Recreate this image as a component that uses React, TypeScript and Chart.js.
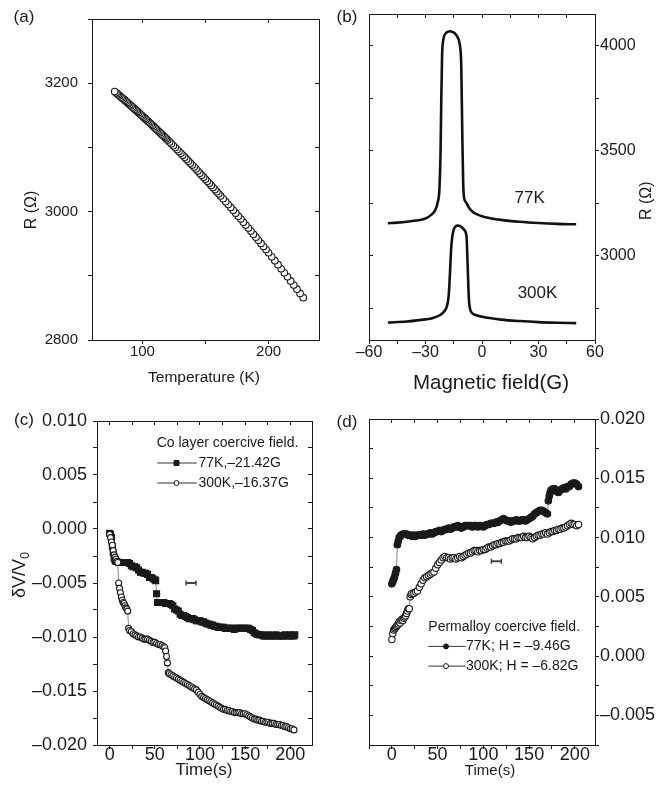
import React, { useEffect, useRef } from "react";
import { Chart, registerables } from "chart.js";
Chart.register(...registerables);

const FONT = '"Liberation Sans", Arial, Helvetica, sans-serif';
const INK = "#1a1a1a";

// ---------- Panel (a): R vs Temperature ----------
const aTemperature = [
  78, 79, 80, 81, 82, 83, 84, 85, 86, 87, 88, 89, 90, 91, 92, 93, 94, 95, 96, 97, 98, 99, 100,
  101, 102, 103, 104, 105, 106, 107, 108, 109, 110, 111, 112, 113, 114, 115, 116, 117, 118, 119, 120,
  121.5, 123, 124.5, 126, 127.5, 129, 130.5, 132, 133.5, 135, 136.5, 138, 139.5, 141, 142.5, 144,
  145.5, 147, 148.5, 150, 151.5, 153, 154.5, 156, 157.5, 159, 160.5,
  162, 164, 166, 168, 170, 172, 174, 176, 178, 180, 182, 184, 186, 188, 190, 192, 194, 196, 198, 200,
  202.5, 205, 207.5, 210, 212.5, 215, 217.5, 220, 222.5, 225, 227.5,
];
const aResistance = [
  3187.0, 3185.3, 3183.7, 3182.0, 3180.3, 3178.6, 3176.9, 3175.2, 3173.5, 3171.8, 3170.0, 3168.3,
  3166.6, 3164.8, 3163.1, 3161.3, 3159.5, 3157.8, 3156.0, 3154.2, 3152.4, 3150.6, 3148.8, 3147.0,
  3145.2, 3143.4, 3141.5, 3139.7, 3137.9, 3136.0, 3134.2, 3132.3, 3130.4, 3128.6, 3126.7, 3124.8,
  3122.9, 3121.0, 3119.1, 3117.2, 3115.3, 3113.3, 3111.4,
  3108.5, 3105.6, 3102.6, 3099.7, 3096.7, 3093.7, 3090.7, 3087.7, 3084.7, 3081.6, 3078.6, 3075.5,
  3072.4, 3069.3, 3066.2, 3063.1, 3059.9, 3056.8, 3053.6, 3050.4, 3047.2, 3044.0, 3040.8, 3037.5,
  3034.3, 3031.0, 3027.7,
  3024.4, 3020.0, 3015.5, 3011.0, 3006.5, 3002.0, 2997.5, 2992.9, 2988.3, 2983.6, 2979.0, 2974.3,
  2969.6, 2964.8, 2960.1, 2955.3, 2950.5, 2945.6, 2940.8, 2935.9,
  2929.7, 2923.5, 2917.3, 2911.0, 2904.7, 2898.4, 2892.0, 2885.5, 2879.1, 2872.5, 2866.0,
];
const aXTicks = [100, 150, 200];
const aXLabels = [100, 200];
const aYTicks = [2800, 2900, 3000, 3100, 3200, 3300];
const aYLabels = [2800, 3000, 3200];

// ---------- Panel (b): R vs magnetic field ----------
const b77K: [number, number][] = [
  [-50, 3155], [-45, 3158], [-40, 3162], [-35, 3168], [-30, 3178], [-27, 3195], [-25, 3215],
  [-23.5, 3255], [-22.6, 3320], [-22.0, 3500], [-21.6, 3750], [-21.2, 3950], [-20.5, 4030],
  [-19.5, 4055], [-18, 4066], [-17, 4068], [-15.5, 4064], [-14, 4054], [-12.5, 4030], [-11.5, 3985],
  [-11, 3900], [-10.5, 3600], [-10, 3350], [-9.5, 3275], [-8.5, 3255], [-7, 3230], [-5, 3210],
  [-2, 3195], [0, 3188], [5, 3178], [10, 3171], [20, 3162], [30, 3156], [40, 3152], [50, 3150],
];
const b300K: [number, number][] = [
  [-50, 2683], [-40, 2688], [-30, 2698], [-26, 2705], [-22, 2720], [-20, 2737], [-18.5, 2765],
  [-17.6, 2820], [-17, 2920], [-16.4, 3030], [-15.8, 3090], [-15, 3125], [-14, 3140], [-13, 3144],
  [-12, 3143], [-11, 3138], [-10, 3130], [-9, 3118], [-8.2, 3090], [-7.6, 2950], [-7.0, 2800],
  [-6.5, 2755], [-5.5, 2730], [-3, 2718], [0, 2711], [5, 2703], [10, 2697], [20, 2690], [30, 2685],
  [40, 2682], [50, 2680],
];
const bXTicks = [-60, -45, -30, -15, 0, 15, 30, 45, 60];
const bXLabels = [-60, -30, 0, 30, 60];
const bYTicks = [2750, 3000, 3250, 3500, 3750, 4000];
const bYLabels = [3000, 3500, 4000];

// ---------- Panel (c): Co layer ----------
const c77K: [number, number][] = [
  [0, -0.0004], [1, -0.0005], [2, -0.0008], [3, -0.0016], [4, -0.0022], [5, -0.0027], [6, -0.0029],
  [7, -0.003], [8, -0.003], [10, -0.0031], [12, -0.0031], [14, -0.0031], [16, -0.0031], [18, -0.0031],
  [20, -0.0031], [22, -0.0032], [24, -0.0034], [26, -0.0035], [28, -0.0035], [30, -0.0036],
  [32, -0.0038], [34, -0.004], [36, -0.004], [38, -0.0041], [40, -0.0041], [42, -0.0042],
  [44, -0.0045], [46, -0.0045], [48, -0.0046], [50, -0.0047], [51, -0.0048], [52, -0.006],
  [53, -0.0068], [54, -0.0068], [56, -0.0068], [58, -0.0068], [60, -0.0068], [62, -0.0069],
  [64, -0.0069], [66, -0.0069], [68, -0.007], [70, -0.0071], [72, -0.0074], [74, -0.0075],
  [76, -0.0076], [78, -0.0079], [80, -0.008], [82, -0.008], [84, -0.0081], [86, -0.0082],
  [88, -0.0083], [90, -0.0083], [92, -0.0083], [94, -0.0084], [96, -0.0085], [98, -0.0085],
  [100, -0.0085], [102, -0.0086], [104, -0.0086], [106, -0.0087], [108, -0.0088], [110, -0.0088],
  [112, -0.0089], [114, -0.0089], [116, -0.009], [118, -0.009], [120, -0.0091], [122, -0.0091],
  [124, -0.0091], [126, -0.0091], [128, -0.0092], [130, -0.0092], [132, -0.0092], [134, -0.0092],
  [136, -0.0092], [138, -0.0093], [140, -0.0092], [142, -0.0092], [144, -0.0092], [146, -0.0092],
  [148, -0.0092], [150, -0.0092], [152, -0.0092], [154, -0.0092], [156, -0.0093], [158, -0.0094],
  [160, -0.0096], [162, -0.0097], [164, -0.0098], [166, -0.0098], [168, -0.0098], [170, -0.0099],
  [172, -0.0099], [174, -0.0099], [176, -0.0098], [178, -0.0099], [180, -0.0099], [182, -0.0099],
  [184, -0.0098], [186, -0.0099], [188, -0.0099], [190, -0.0099], [192, -0.0099], [194, -0.0098],
  [196, -0.0099], [198, -0.0099], [200, -0.0098], [202, -0.0099], [204, -0.0099], [205, -0.0098],
];
const c300K: [number, number][] = [
  [0, -0.0005], [1, -0.0008], [2, -0.0012], [3, -0.0015], [4, -0.002], [5, -0.0024], [6, -0.0026],
  [7, -0.0028], [8, -0.003], [9, -0.0031], [10, -0.005], [11, -0.0055], [12, -0.0059], [13, -0.0063],
  [14, -0.0066], [15, -0.0068], [16, -0.0069], [17, -0.0071], [18, -0.0073], [19, -0.0074],
  [20, -0.0076], [21, -0.0092], [22, -0.0094], [24, -0.0095], [26, -0.0097], [28, -0.0098],
  [30, -0.0099], [32, -0.01], [34, -0.01], [36, -0.0101], [38, -0.0102], [40, -0.0102], [42, -0.0102],
  [44, -0.0103], [46, -0.0104], [48, -0.0105], [50, -0.0105], [52, -0.0106], [54, -0.0107],
  [56, -0.0107], [58, -0.0108], [60, -0.0109], [61, -0.011], [62, -0.0113], [63, -0.0118],
  [64, -0.0124], [65, -0.0133], [66, -0.0134], [68, -0.0135], [70, -0.0136], [72, -0.0137],
  [74, -0.0138], [76, -0.0139], [78, -0.014], [80, -0.0141], [82, -0.0142], [84, -0.0143],
  [86, -0.0144], [88, -0.0145], [90, -0.0146], [92, -0.0147], [94, -0.0148], [96, -0.0149],
  [98, -0.0151], [100, -0.0153], [102, -0.0155], [104, -0.0156], [106, -0.0157], [108, -0.0158],
  [110, -0.0159], [112, -0.016], [114, -0.0161], [116, -0.0162], [118, -0.0163], [120, -0.0164],
  [122, -0.0165], [124, -0.0166], [126, -0.0167], [128, -0.0167], [130, -0.0168], [132, -0.0168],
  [134, -0.0169], [136, -0.0169], [138, -0.017], [140, -0.017], [142, -0.017], [144, -0.017],
  [146, -0.0171], [148, -0.0171], [150, -0.0171], [152, -0.0172], [154, -0.0173], [156, -0.0174],
  [158, -0.0175], [160, -0.0176], [162, -0.0176], [164, -0.0177], [166, -0.0177], [168, -0.0178],
  [170, -0.0178], [172, -0.0179], [174, -0.0179], [176, -0.0179], [178, -0.018], [180, -0.018],
  [182, -0.018], [184, -0.0181], [186, -0.0181], [188, -0.0181], [190, -0.0182], [192, -0.0182],
  [194, -0.0183], [196, -0.0183], [198, -0.0184], [200, -0.0185], [202, -0.0185], [204, -0.0186],
];
const cErrorBar: [number, number][] = [[84.6, -0.005], [95.6, -0.005]];
const cXTicks = [0, 25, 50, 75, 100, 125, 150, 175, 200];
const cXLabels = [0, 50, 100, 150, 200];
const cYTicks = [-0.02, -0.0175, -0.015, -0.0125, -0.01, -0.0075, -0.005, -0.0025, 0, 0.0025, 0.005, 0.0075, 0.01];
const cYLabels = [-0.02, -0.015, -0.01, -0.005, 0, 0.005, 0.01];
const cLegendTitle = "Co layer coercive field.";
const cLegendLabels = ["77K,–21.42G", "300K,–16.37G"];

// ---------- Panel (d): Permalloy ----------
const d77K: [number, number][] = [
  [0, 0.0061], [1, 0.0063], [2, 0.0065], [3, 0.0067], [4, 0.007], [5, 0.0073], [6, 0.0094],
  [7, 0.0097], [8, 0.01], [9, 0.0101], [10, 0.0102], [12, 0.0103], [14, 0.0103], [16, 0.0103],
  [18, 0.0102], [20, 0.0102], [22, 0.0101], [24, 0.0102], [26, 0.0101], [28, 0.0102], [30, 0.0102],
  [32, 0.0102], [34, 0.0103], [36, 0.0102], [38, 0.0103], [40, 0.0103], [42, 0.0104], [44, 0.0103],
  [46, 0.0104], [48, 0.0105], [50, 0.0105], [52, 0.0106], [54, 0.0105], [56, 0.0106], [58, 0.0107],
  [60, 0.0107], [62, 0.0108], [64, 0.0107], [66, 0.0108], [68, 0.0109], [70, 0.0109], [72, 0.011],
  [74, 0.0109], [76, 0.0108], [78, 0.0109], [80, 0.011], [82, 0.011], [84, 0.011], [86, 0.011],
  [88, 0.0109], [90, 0.011], [92, 0.011], [94, 0.0109], [96, 0.011], [98, 0.011], [100, 0.0109],
  [102, 0.011], [104, 0.0111], [106, 0.0111], [108, 0.0112], [110, 0.0112], [112, 0.0112],
  [114, 0.0113], [116, 0.0113], [118, 0.0114], [120, 0.0115], [122, 0.0116], [124, 0.0115],
  [126, 0.0114], [128, 0.0114], [130, 0.0113], [132, 0.0114], [134, 0.0114], [136, 0.0115],
  [138, 0.0114], [140, 0.0114], [142, 0.0115], [144, 0.0115], [146, 0.0114], [148, 0.0115],
  [150, 0.0116], [152, 0.0117], [154, 0.0118], [156, 0.012], [158, 0.0121], [160, 0.0122],
  [162, 0.0123], [164, 0.0123], [166, 0.0122], [168, 0.0121], [170, 0.012], [171, 0.0131],
  [172, 0.0135], [173, 0.0138], [174, 0.014], [176, 0.0141], [178, 0.0141], [180, 0.0139],
  [182, 0.0138], [184, 0.014], [186, 0.0141], [188, 0.0142], [190, 0.0141], [192, 0.0143],
  [194, 0.0143], [196, 0.0145], [198, 0.0146], [200, 0.0146], [202, 0.0145], [204, 0.0143],
];
const d300K: [number, number][] = [
  [0, 0.0014], [1, 0.0019], [2, 0.0022], [3, 0.0023], [4, 0.0024], [5, 0.0025], [6, 0.0026],
  [7, 0.0027], [8, 0.0029], [9, 0.0028], [10, 0.003], [11, 0.0031], [12, 0.003], [13, 0.0032],
  [14, 0.0033], [15, 0.0034], [16, 0.0036], [17, 0.0038], [18, 0.004], [19, 0.004], [20, 0.005],
  [21, 0.0052], [22, 0.0053], [24, 0.0053], [26, 0.0054], [28, 0.0055], [30, 0.0058], [32, 0.0061],
  [34, 0.0064], [36, 0.0066], [38, 0.0067], [40, 0.0068], [42, 0.0069], [44, 0.007], [46, 0.0071],
  [48, 0.0074], [50, 0.0077], [52, 0.0079], [54, 0.0081], [56, 0.0083], [58, 0.0084], [60, 0.0083],
  [62, 0.0083], [64, 0.0082], [66, 0.0083], [68, 0.0083], [70, 0.0082], [72, 0.0083], [74, 0.0084],
  [76, 0.0083], [78, 0.0084], [80, 0.0085], [82, 0.0086], [84, 0.0087], [86, 0.0087], [88, 0.0088],
  [90, 0.0089], [92, 0.0089], [94, 0.0088], [96, 0.0089], [98, 0.0089], [100, 0.009], [102, 0.009],
  [104, 0.0091], [106, 0.0092], [108, 0.0092], [110, 0.0093], [112, 0.0094], [114, 0.0094],
  [116, 0.0095], [118, 0.0095], [120, 0.0096], [122, 0.0096], [124, 0.0097], [126, 0.0097],
  [128, 0.0097], [130, 0.0098], [132, 0.0099], [134, 0.0099], [136, 0.0099], [138, 0.01],
  [140, 0.01], [142, 0.01], [144, 0.0101], [146, 0.01], [148, 0.01], [150, 0.0101], [152, 0.01],
  [154, 0.0099], [156, 0.01], [158, 0.0101], [160, 0.0102], [162, 0.0102], [164, 0.0103],
  [166, 0.0103], [168, 0.0104], [170, 0.0103], [172, 0.0104], [174, 0.0105], [176, 0.0105],
  [178, 0.0106], [180, 0.0106], [182, 0.0107], [184, 0.0107], [186, 0.0108], [188, 0.0108],
  [190, 0.0109], [192, 0.011], [194, 0.0111], [196, 0.0112], [198, 0.0111], [200, 0.0111],
  [202, 0.011], [204, 0.0111],
];
const dErrorBar: [number, number][] = [[108.8, 0.008], [119.7, 0.008]];
const dXTicks = [-25, 0, 25, 50, 75, 100, 125, 150, 175, 200];
const dXLabels = [0, 50, 100, 150, 200];
const dYTicks = [-0.0075, -0.005, -0.0025, 0, 0.0025, 0.005, 0.0075, 0.01, 0.0125, 0.015, 0.0175, 0.02];
const dYLabels = [-0.005, 0, 0.005, 0.01, 0.015, 0.02];
const dLegendTitle = "Permalloy coercive field.";
const dLegendLabels = ["77K; H = –9.46G", "300K; H = –6.82G"];

// ---------- helpers ----------
const dash = (v: number) => (v < 0 ? "–" : "") + Math.abs(v);
const dash3 = (v: number) => (v < 0 ? "–" : "") + Math.abs(v).toFixed(3);
const pts = (arr: [number, number][]) => arr.map(([x, y]) => ({ x, y }));

type AxisOpt = {
  pos: "top" | "bottom" | "left" | "right";
  min: number; max: number; ticks: number[]; labels: number[];
  fmt: (v: number) => string; main: boolean; size: number; fit: number; pad: number;
};
function axis(o: AxisOpt) {
  const vertical = o.pos === "left" || o.pos === "right";
  return {
    type: "linear",
    position: o.pos,
    min: o.min,
    max: o.max,
    afterBuildTicks: (s: any) => { s.ticks = o.ticks.map((v) => ({ value: v })); },
    afterFit: (s: any) => { if (vertical) s.width = o.fit; else s.height = o.fit; },
    ticks: {
      display: o.main,
      autoSkip: false,
      maxRotation: 0,
      minRotation: 0,
      padding: o.pad,
      color: INK,
      font: { family: FONT, size: o.size },
      callback: (v: number) => (o.labels.some((l) => Math.abs(l - v) < 1e-9) ? o.fmt(v) : ""),
    },
    grid: { drawOnChartArea: false, drawTicks: true, tickLength: o.main ? 4 : -4, tickColor: INK, tickWidth: 1 },
    border: { display: true, color: INK, width: 1 },
  };
}

type Txt = { text: string; x: number; y: number; size: number; rotate?: boolean; sub?: string };
type Legend = {
  x: number; y: number; gap: number; line1: number; line2: number; mark: number; textX: number;
  title: string; labels: string[]; styles: { shape: "rect" | "circle"; filled: boolean }[];
};

function overlay(texts: Txt[], legend?: Legend) {
  return {
    id: "overlayTexts",
    afterDraw(chart: any) {
      const ctx: CanvasRenderingContext2D = chart.ctx;
      ctx.save();
      ctx.fillStyle = INK;
      ctx.textBaseline = "middle";
      for (const t of texts) {
        ctx.font = `${t.size}px ${FONT}`;
        if (t.rotate) {
          ctx.save();
          ctx.translate(t.x, t.y);
          ctx.rotate(-Math.PI / 2);
          const w1 = ctx.measureText(t.text).width;
          let w2 = 0;
          if (t.sub) {
            ctx.font = `${t.size * 0.7}px ${FONT}`;
            w2 = ctx.measureText(t.sub).width;
          }
          const start = -(w1 + w2) / 2;
          ctx.font = `${t.size}px ${FONT}`;
          ctx.textAlign = "left";
          ctx.fillText(t.text, start, 0);
          if (t.sub) {
            ctx.font = `${t.size * 0.7}px ${FONT}`;
            ctx.fillText(t.sub, start + w1, t.size * 0.32);
          }
          ctx.restore();
        } else {
          ctx.textAlign = "center";
          ctx.fillText(t.text, t.x, t.y);
        }
      }
      if (legend) {
        ctx.font = `14px ${FONT}`;
        ctx.textAlign = "left";
        ctx.fillText(legend.title, legend.x, legend.y);
        legend.labels.forEach((lab, i) => {
          const y = legend.y + legend.gap * (i + 1);
          ctx.strokeStyle = "#333";
          ctx.lineWidth = 1;
          ctx.beginPath();
          ctx.moveTo(legend.line1, y);
          ctx.lineTo(legend.line2, y);
          ctx.stroke();
          const st = legend.styles[i];
          ctx.beginPath();
          if (st.shape === "rect") ctx.rect(legend.mark - 2.5, y - 2.5, 5, 5);
          else ctx.arc(legend.mark, y, 2.5, 0, Math.PI * 2);
          ctx.fillStyle = st.filled ? INK : "#fff";
          ctx.fill();
          ctx.strokeStyle = INK;
          ctx.stroke();
          ctx.fillStyle = INK;
          ctx.fillText(lab, legend.textX, y);
        });
      }
      ctx.restore();
    },
  };
}

const baseOptions = (scales: any) => ({
  responsive: false,
  animation: false as const,
  events: [] as any[],
  layout: { padding: 0 },
  plugins: { legend: { display: false }, tooltip: { enabled: false }, title: { display: false } },
  scales,
});

export default function App() {
  const refA = useRef<HTMLCanvasElement>(null);
  const refB = useRef<HTMLCanvasElement>(null);
  const refC = useRef<HTMLCanvasElement>(null);
  const refD = useRef<HTMLCanvasElement>(null);

  useEffect(() => {
    const charts: Chart[] = [];

    // (a)
    charts.push(new Chart(refA.current!, {
      type: "scatter",
      data: {
        datasets: [{
          data: aTemperature.map((t, i) => ({ x: t, y: aResistance[i] })).reverse(),
          pointStyle: "circle", pointRadius: 3.3, pointBorderWidth: 1.1,
          pointBorderColor: "#1a1a1a", pointBackgroundColor: "#fff", showLine: false,
        }],
      },
      options: baseOptions({
        x: axis({ pos: "bottom", min: 60, max: 240, ticks: aXTicks, labels: aXLabels, fmt: dash, main: true, size: 15, fit: 60, pad: -1 }),
        x2: axis({ pos: "top", min: 60, max: 240, ticks: aXTicks, labels: [], fmt: dash, main: false, size: 15, fit: 15, pad: 0 }),
        y: axis({ pos: "left", min: 2800, max: 3300, ticks: aYTicks, labels: aYLabels, fmt: dash, main: true, size: 15, fit: 92, pad: 10 }),
        y2: axis({ pos: "right", min: 2800, max: 3300, ticks: aYTicks, labels: [], fmt: dash, main: false, size: 15, fit: 14, pad: 0 }),
      }) as any,
      plugins: [overlay([
        { text: "(a)", x: 24, y: 17, size: 17 },
        { text: "Temperature (K)", x: 204, y: 378, size: 15.5 },
        { text: "R (Ω)", x: 32, y: 210, size: 16, rotate: true },
      ])],
    }));

    // (b)
    const lineDs = (arr: [number, number][]) => ({
      data: pts(arr), showLine: true, pointRadius: 0, borderWidth: 2.6, borderColor: "#111",
      cubicInterpolationMode: "monotone" as const, fill: false,
    });
    charts.push(new Chart(refB.current!, {
      type: "scatter",
      data: { datasets: [lineDs(b77K), lineDs(b300K)] as any },
      options: baseOptions({
        x: axis({ pos: "bottom", min: -60, max: 60, ticks: bXTicks, labels: bXLabels, fmt: dash, main: true, size: 16, fit: 60, pad: -1 }),
        x2: axis({ pos: "top", min: -60, max: 60, ticks: bXTicks, labels: [], fmt: dash, main: false, size: 16, fit: 14, pad: 0 }),
        y: axis({ pos: "right", min: 2600, max: 4150, ticks: bYTicks, labels: bYLabels, fmt: dash, main: true, size: 16, fit: 71, pad: 1 }),
        y2: axis({ pos: "left", min: 2600, max: 4150, ticks: bYTicks, labels: [], fmt: dash, main: false, size: 16, fit: 36, pad: 0 }),
      }) as any,
      plugins: [overlay([
        { text: "(b)", x: 14, y: 17, size: 17 },
        { text: "77K", x: 196.7, y: 198.3, size: 17 },
        { text: "300K", x: 204.5, y: 293.3, size: 17 },
        { text: "Magnetic field(G)", x: 158, y: 383, size: 20.5 },
        { text: "R (Ω)", x: 314, y: 200.7, size: 16, rotate: true },
      ])],
    }));

    const markDs = (arr: [number, number][], style: string, filled: boolean, r: number) => ({
      data: pts(arr), showLine: true, borderWidth: 0.8, borderColor: "#666",
      pointStyle: style, pointRadius: r, pointBorderWidth: 1.1,
      pointBorderColor: INK, pointBackgroundColor: filled ? INK : "#fff",
    });
    const errDs = (arr: [number, number][]) => ({
      data: pts(arr), showLine: true, borderWidth: 2, borderColor: "#444",
      pointStyle: "line", pointRotation: 90, pointRadius: 2.5, pointBorderWidth: 1.5, pointBorderColor: "#444",
    });

    // (c)
    charts.push(new Chart(refC.current!, {
      type: "scatter",
      data: { datasets: [markDs(c300K, "circle", false, 3), markDs(c77K, "rect", true, 4.2), errDs(cErrorBar)] as any },
      options: baseOptions({
        x: axis({ pos: "bottom", min: -14, max: 224, ticks: cXTicks, labels: cXLabels, fmt: dash, main: true, size: 18, fit: 48, pad: -5 }),
        x2: axis({ pos: "top", min: -14, max: 224, ticks: cXTicks, labels: [], fmt: dash, main: false, size: 18, fit: 21, pad: 0 }),
        y: axis({ pos: "left", min: -0.02, max: 0.01, ticks: cYTicks, labels: cYLabels, fmt: dash3, main: true, size: 18, fit: 97, pad: 6 }),
        y2: axis({ pos: "right", min: -0.02, max: 0.01, ticks: cYTicks, labels: [], fmt: dash3, main: false, size: 18, fit: 21, pad: 0 }),
      }) as any,
      plugins: [overlay([
        { text: "(c)", x: 24, y: 20, size: 17 },
        { text: "Time(s)", x: 204, y: 370, size: 17 },
        { text: "δV/V", sub: "0", x: 20, y: 175, size: 18, rotate: true },
      ], {
        x: 156.7, y: 43, gap: 20, line1: 157.3, line2: 196.7, mark: 176.5, textX: 198.5,
        title: cLegendTitle, labels: cLegendLabels,
        styles: [{ shape: "rect", filled: true }, { shape: "circle", filled: false }],
      })],
    }));

    // (d)
    charts.push(new Chart(refD.current!, {
      type: "scatter",
      data: { datasets: [markDs(d300K, "circle", false, 3.2), markDs(d77K, "circle", true, 3.3), errDs(dErrorBar)] as any },
      options: baseOptions({
        x: axis({ pos: "bottom", min: -25, max: 222, ticks: dXTicks, labels: dXLabels, fmt: dash, main: true, size: 18, fit: 48, pad: -5 }),
        x2: axis({ pos: "top", min: -25, max: 222, ticks: dXTicks, labels: [], fmt: dash, main: false, size: 18, fit: 19, pad: 0 }),
        y: axis({ pos: "right", min: -0.0075, max: 0.02, ticks: dYTicks, labels: dYLabels, fmt: dash3, main: true, size: 18, fit: 71, pad: 1 }),
        y2: axis({ pos: "left", min: -0.0075, max: 0.02, ticks: dYTicks, labels: [], fmt: dash3, main: false, size: 18, fit: 36, pad: 0 }),
      }) as any,
      plugins: [overlay([
        { text: "(d)", x: 14, y: 22, size: 17 },
        { text: "Time(s)", x: 157, y: 370.7, size: 15 },
      ], {
        x: 95.3, y: 226.7, gap: 19.7, line1: 95.3, line2: 132.7, mark: 113, textX: 133,
        title: dLegendTitle, labels: dLegendLabels,
        styles: [{ shape: "circle", filled: true }, { shape: "circle", filled: false }],
      })],
    }));

    return () => charts.forEach((c) => c.destroy());
  }, []);

  const cv = (left: number, top: number, h: number): React.CSSProperties => ({
    position: "absolute", left, top, width: 333, height: h,
  });

  return (
    <div style={{ position: "absolute", left: 0, top: 0, width: 666, height: 793, background: "#fff", overflow: "hidden" }}>
      <canvas ref={refA} width={333} height={400} style={cv(0, 0, 400)} />
      <canvas ref={refB} width={333} height={400} style={cv(333, 0, 400)} />
      <canvas ref={refC} width={333} height={393} style={cv(0, 400, 393)} />
      <canvas ref={refD} width={333} height={393} style={cv(333, 400, 393)} />
    </div>
  );
}
